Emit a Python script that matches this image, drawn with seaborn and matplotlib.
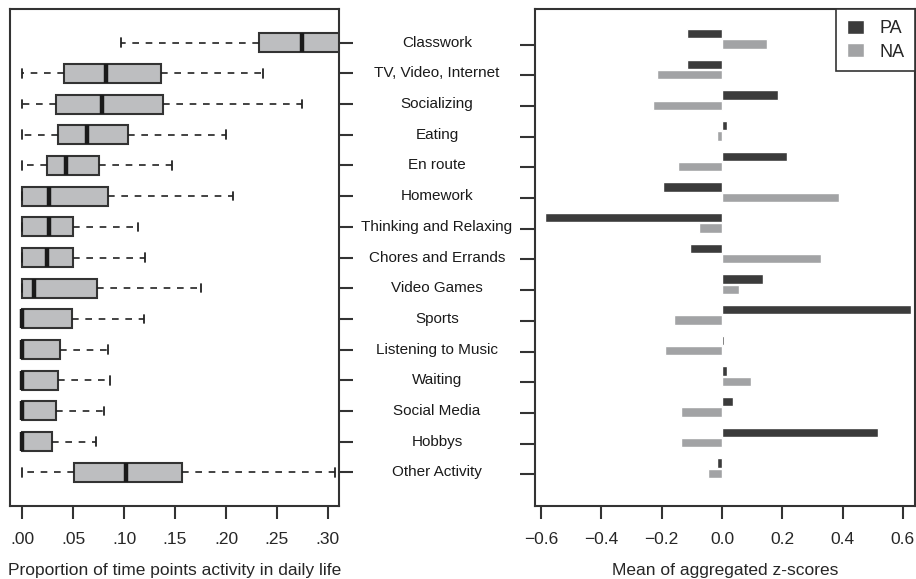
import matplotlib
matplotlib.use('Agg')

import pandas as pd
import matplotlib.pyplot as plt
import matplotlib.transforms as mtrans
import seaborn as sns

# ========== DATA ==========
activities = ['Classwork', 'TV, Video, Internet', 'Socializing', 'Eating', 'En route',
              'Homework', 'Thinking and Relaxing', 'Chores and Errands', 'Video Games',
              'Sports', 'Listening to Music', 'Waiting', 'Social Media', 'Hobbys',
              'Other Activity']

# box summaries (proportion of time points)
box_lo = [0.097, 0.0, 0.0, 0.0, 0.0, 0.0, 0.0, 0.0, 0.0, 0.0, 0.0, 0.0, 0.0, 0.0, 0.0]
box_q1 = [0.232, 0.041, 0.033, 0.035, 0.024, 0.0, 0.0, 0.0, 0.0, 0.0, 0.0, 0.0, 0.0, 0.0, 0.051]
box_med = [0.275, 0.082, 0.078, 0.064, 0.043, 0.026, 0.026, 0.024, 0.012, 0.0, 0.0, 0.0, 0.0, 0.0, 0.102]
box_q3 = [0.34, 0.136, 0.138, 0.104, 0.075, 0.084, 0.050, 0.050, 0.073, 0.049, 0.037, 0.035, 0.033, 0.029, 0.157]
box_hi = [0.45, 0.236, 0.275, 0.200, 0.147, 0.207, 0.114, 0.121, 0.176, 0.120, 0.084, 0.086, 0.080, 0.072, 0.307]

# mean of aggregated z-scores
pa_means = [-0.117, -0.117, 0.187, 0.018, 0.217, -0.197, -0.587, -0.107, 0.137,
            0.628, 0.007, 0.018, 0.037, 0.517, -0.018]
na_means = [0.148, -0.217, -0.228, -0.018, -0.147, 0.388, -0.076, 0.328, 0.057,
            -0.158, -0.188, 0.097, -0.137, -0.137, -0.047]

left_ticks = [0.0, 0.05, 0.10, 0.15, 0.20, 0.25, 0.30]
left_ticklabels = ['.00', '.05', '.10', '.15', '.20', '.25', '.30']
right_ticks = [-0.6, -0.4, -0.2, 0.0, 0.2, 0.4, 0.6]
right_ticklabels = ['\u22120.6', '\u22120.4', '\u22120.2', '0.0', '0.2', '0.4', '0.6']

# ========== STYLE ==========
sns.set_style("ticks")
plt.rcParams['font.family'] = ['Liberation Sans', 'DejaVu Sans']
edge = '#333333'

fig = plt.figure(figsize=(9.16, 5.79), dpi=100)
ax1 = fig.add_axes([10/916, 73/579, 329/916, 497/579])
ax2 = fig.add_axes([535/916, 73/579, 380/916, 497/579])

# --- Left: boxplots ---
stats = []
for i, name in enumerate(activities):
    stats.append(dict(label=name, whislo=box_lo[i], q1=box_q1[i], med=box_med[i],
                      q3=box_q3[i], whishi=box_hi[i], fliers=[]))

ax1.bxp(stats, positions=list(range(len(activities))), widths=0.62,
        orientation='horizontal', patch_artist=True, showfliers=False, capwidths=0.28,
        boxprops=dict(facecolor='#bdbec0', edgecolor=edge, linewidth=1.5),
        medianprops=dict(color='#1a1a1a', linewidth=3.2, solid_capstyle='butt'),
        whiskerprops=dict(color='#222222', linewidth=1.2, linestyle=(0, (4, 4))),
        capprops=dict(color='#222222', linewidth=1.3))
ax1.set_xlim(-0.012, 0.311)
ax1.set_ylim(15.1, -1.1)
ax1.set_xticks(left_ticks)
ax1.set_xticklabels(left_ticklabels, fontsize=12.5)
ax1.yaxis.tick_right()
ax1.set_yticks(range(len(activities)))
ax1.set_yticklabels([])
ax1.tick_params(axis='y', direction='out', length=10, width=1.5, color=edge)
ax1.tick_params(axis='x', direction='out', length=9, width=1.5, color=edge, pad=10)
ax1.set_xlabel('Proportion of time points activity in daily life', fontsize=12.5, labelpad=11)

# activity names in the middle
trans = mtrans.blended_transform_factory(fig.transFigure, ax1.transData)
for i, name in enumerate(activities):
    ax1.text(437/916, i, name, transform=trans, ha='center', va='center',
             fontsize=11, color='#1a1a1a')

# --- Right: mean z-scores ---
df = pd.DataFrame({
    'activity': activities * 2,
    'affect': ['PA'] * len(activities) + ['NA'] * len(activities),
    'value': pa_means + na_means,
})
sns.barplot(data=df, y='activity', x='value', hue='affect', orient='h',
            palette={'PA': '#3b3b3b', 'NA': '#a2a3a5'}, width=0.68, gap=0.1,
            saturation=1, ax=ax2)
ax2.set_ylim(15.23, -0.97)
ax2.set_xlim(-0.62, 0.64)
ax2.set_xticks(right_ticks)
ax2.set_xticklabels(right_ticklabels, fontsize=12.5)
ax2.set_yticks([i + 0.195 for i in range(len(activities))])
ax2.set_yticklabels([])
ax2.set_ylabel('')
ax2.tick_params(axis='y', direction='out', length=11, width=1.5, color=edge)
ax2.tick_params(axis='x', direction='out', length=9, width=1.5, color=edge, pad=10)
ax2.set_xlabel('Mean of aggregated z-scores', fontsize=12.5, labelpad=11)

handles, labels = ax2.get_legend_handles_labels()
leg = ax2.legend(handles, labels, loc='upper right', borderaxespad=0, fancybox=False,
                 edgecolor=edge, framealpha=1, fontsize=13, handlelength=0.95,
                 handleheight=0.8, handletextpad=0.85, borderpad=0.6, labelspacing=0.35)
leg.get_frame().set_linewidth(1.2)

for ax in (ax1, ax2):
    for sp in ax.spines.values():
        sp.set_visible(True)
        sp.set_color(edge)
        sp.set_linewidth(1.5)

fig.savefig('out.png', dpi=100)
